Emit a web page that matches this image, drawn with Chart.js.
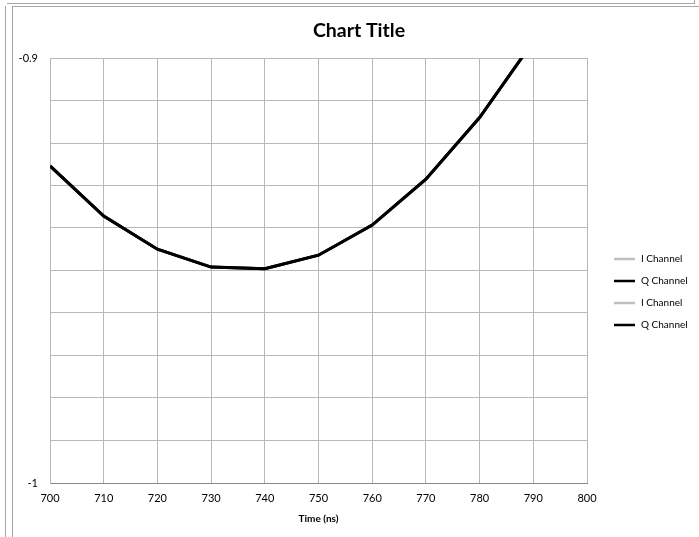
<!DOCTYPE html>
<html>
<head>
<meta charset="utf-8">
<script src="https://cdn.jsdelivr.net/npm/chart.js@4"></script>
<style>
  html, body { margin: 0; padding: 0; background: #fff; }
  #wrap { position: relative; width: 699px; height: 537px; overflow: hidden; }
  canvas { position: absolute; left: 0; top: 0; }
  .ln { position: absolute; background: #a6a6a6; pointer-events: none; }
</style>
</head>
<body>
<div id="wrap">
  <canvas id="c" width="699" height="537"></canvas>
  <div class="ln" style="left:7px;top:3px;width:688px;height:1px;"></div>
  <div class="ln" style="left:694px;top:0px;width:1px;height:4px;"></div>
  <div class="ln" style="left:5px;top:6px;width:1px;height:531px;"></div>
  <div class="ln" style="left:12px;top:6px;width:687px;height:1px;"></div>
  <div class="ln" style="left:12px;top:6px;width:1px;height:531px;"></div>
</div>
<script>
// ---- data ----
const chartTitle = 'Chart Title';
const xAxisTitle = 'Time (ns)';
const timeNs = [700, 710, 720, 730, 740, 750, 760, 770, 780, 790];
const qChannel = [-0.9254, -0.9372, -0.9450, -0.9492, -0.9496, -0.9464, -0.9393, -0.9285, -0.9140, -0.8961];
const iChannel = []; // not visible within the plotted range
const seriesNames = ['I Channel', 'Q Channel', 'I Channel', 'Q Channel'];
const yTickLabels = ['-1', '-0.9'];
const yTickValues = [-1, -0.9];

const toPts = (arr) => arr.map((v, i) => ({ x: timeNs[i], y: v }));
const FONT = 'Lato, "Noto Sans", sans-serif';

const overlay = {
  id: 'overlay',
  afterDraw(chart) {
    const ctx = chart.ctx;
    const ca = chart.chartArea;
    ctx.save();
    ctx.fillStyle = '#000';
    ctx.textAlign = 'center';
    ctx.textBaseline = 'middle';
    ctx.font = 'bold 19.5px ' + FONT;
    ctx.fillText(chartTitle, 359, 31);
    ctx.font = 'bold 10px ' + FONT;
    ctx.fillText(xAxisTitle, (ca.left + ca.right) / 2, 519);
    // legend
    const ys = [259, 281, 303, 325];
    ctx.textAlign = 'left';
    ctx.font = '10px ' + FONT;
    chart.data.datasets.forEach((ds, i) => {
      const y = ys[i];
      ctx.strokeStyle = ds.borderColor;
      ctx.lineWidth = ds.legendWidth;
      ctx.beginPath();
      ctx.moveTo(614, y);
      ctx.lineTo(635, y);
      ctx.stroke();
      ctx.fillStyle = '#000';
      ctx.fillText(ds.label, 641, y);
    });
    ctx.restore();
  }
};

new Chart(document.getElementById('c'), {
  type: 'line',
  data: {
    datasets: [
      { label: seriesNames[0], data: toPts(iChannel), borderColor: '#bfbfbf', borderWidth: 3, legendWidth: 2.5, pointRadius: 0, fill: false },
      { label: seriesNames[1], data: toPts(qChannel), borderColor: '#000000', borderWidth: 3, legendWidth: 2.5, pointRadius: 0, fill: false },
      { label: seriesNames[2], data: toPts(iChannel), borderColor: '#bfbfbf', borderWidth: 3, legendWidth: 2.5, pointRadius: 0, fill: false },
      { label: seriesNames[3], data: toPts(qChannel), borderColor: '#000000', borderWidth: 3, legendWidth: 2.5, pointRadius: 0, fill: false }
    ]
  },
  options: {
    responsive: false,
    animation: false,
    events: [],
    layout: { padding: { top: 58, right: 112, left: 0, bottom: 0 } },
    plugins: { legend: { display: false }, title: { display: false }, tooltip: { enabled: false } },
    scales: {
      x: {
        type: 'linear',
        min: 700, max: 800,
        ticks: { stepSize: 10, padding: 9, color: '#000', font: { family: FONT, size: 11 }, maxRotation: 0 },
        grid: { color: '#b8b8b8', lineWidth: 1, drawTicks: false },
        border: { color: '#888888', width: 1 },
        afterFit(s) { s.height = 54; }
      },
      y: {
        type: 'linear',
        min: -1, max: -0.9,
        ticks: {
          stepSize: 0.01, padding: 12, color: '#000', font: { family: FONT, size: 11 },
          callback(v) {
            for (let k = 0; k < yTickValues.length; k++) {
              if (Math.abs(v - yTickValues[k]) < 1e-9) return yTickLabels[k];
            }
            return '';
          }
        },
        grid: { color: '#b8b8b8', lineWidth: 1, drawTicks: false },
        border: { color: '#b8b8b8', width: 1 },
        afterFit(s) { s.width = 50; }
      }
    }
  },
  plugins: [overlay]
});
</script>
</body>
</html>
